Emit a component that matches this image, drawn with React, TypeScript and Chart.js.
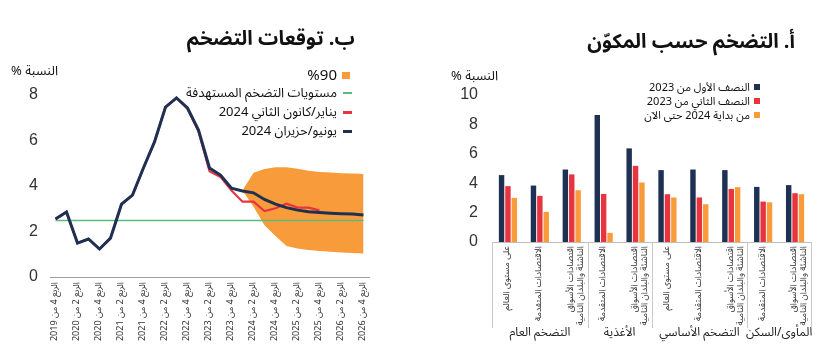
import React, { useEffect, useRef } from 'react';
import { Chart, registerables } from 'chart.js';

Chart.register(...registerables);

// ---------- Panel B: inflation expectations ----------
const quarterLabels = [
  'الربع 4 من 2019', 'الربع 1 من 2020', 'الربع 2 من 2020', 'الربع 3 من 2020', 'الربع 4 من 2020',
  'الربع 1 من 2021', 'الربع 2 من 2021', 'الربع 3 من 2021', 'الربع 4 من 2021',
  'الربع 1 من 2022', 'الربع 2 من 2022', 'الربع 3 من 2022', 'الربع 4 من 2022',
  'الربع 1 من 2023', 'الربع 2 من 2023', 'الربع 3 من 2023', 'الربع 4 من 2023',
  'الربع 1 من 2024', 'الربع 2 من 2024', 'الربع 3 من 2024', 'الربع 4 من 2024',
  'الربع 1 من 2025', 'الربع 2 من 2025', 'الربع 3 من 2025', 'الربع 4 من 2025',
  'الربع 1 من 2026', 'الربع 2 من 2026', 'الربع 3 من 2026', 'الربع 4 من 2026',
];

const june2024Forecast = [
  2.55, 2.86, 1.49, 1.67, 1.23, 1.71, 3.2, 3.6, 4.8, 5.94, 7.47, 7.87, 7.43, 6.46, 4.79, 4.48,
  3.9, 3.78, 3.7, 3.41, 3.2, 3.05, 2.94, 2.87, 2.83, 2.8, 2.78, 2.77, 2.73,
];

const january2024Forecast = [
  2.55, 2.86, 1.49, 1.67, 1.23, 1.71, 3.2, 3.6, 4.8, 5.94, 7.47, 7.87, 7.4, 6.4, 4.65, 4.4,
  3.8, 3.31, 3.31, 2.9, 3.02, 3.22, 3.05, 3.05, 2.93, null, null, null, null,
];

const targetLevels = [
  2.48, 2.48, 2.48, 2.48, 2.48, 2.48, 2.48, 2.48, 2.48, 2.48, 2.48, 2.48, 2.48, 2.48, 2.48,
  2.48, 2.48, 2.48, 2.48, 2.48, 2.48, 2.48, 2.48, 2.48, 2.48, 2.48, 2.48, 2.48, 2.48,
];

const band90Upper = [
  null, null, null, null, null, null, null, null, null, null, null, null, null, null, null, null, null,
  3.8, 4.58, 4.75, 4.82, 4.82, 4.76, 4.67, 4.62, 4.59, 4.56, 4.55, 4.53,
];

const band90Lower = [
  null, null, null, null, null, null, null, null, null, null, null, null, null, null, null, null, null,
  3.8, 3.09, 2.28, 1.8, 1.36, 1.25, 1.19, 1.14, 1.11, 1.08, 1.06, 1.03,
];

// ---------- Panel A: inflation by component ----------
const componentCategories: (string | string[])[] = [
  'على مستوى العالم',
  'الاقتصادات المتقدمة',
  ['اقتصادات الأسواق', 'الناشئة والبلدان النامية'],
  'الاقتصادات المتقدمة',
  ['اقتصادات الأسواق', 'الناشئة والبلدان النامية'],
  'على مستوى العالم',
  'الاقتصادات المتقدمة',
  ['اقتصادات الأسواق', 'الناشئة والبلدان النامية'],
  'الاقتصادات المتقدمة',
  ['اقتصادات الأسواق', 'الناشئة والبلدان النامية'],
];
const componentGroups = ['التضخم العام', 'الأغذية', 'التضخم الأساسي', 'المأوى/السكن'];
const componentGroupSizes = [3, 2, 3, 2];

const firstHalf2023 = [4.55, 3.84, 4.93, 8.64, 6.37, 4.89, 4.93, 4.89, 3.75, 3.87];
const secondHalf2023 = [3.8, 3.14, 4.6, 3.27, 5.18, 3.25, 3.03, 3.61, 2.75, 3.32];
const since2024 = [3.0, 2.05, 3.52, 0.62, 4.05, 3.03, 2.57, 3.73, 2.7, 3.25];

// ---------- styles ----------
const NAVY = '#1e3152';
const RED = '#e8343f';
const ORANGE = '#f89c3b';
const GREEN = '#5cba80';
const AR_FONT = '"Noto Sans Arabic", "Noto Sans", "DejaVu Sans", sans-serif';
const NUM_FONT = '"Liberation Sans", Arial, sans-serif';

function ForecastChart() {
  const ref = useRef<HTMLCanvasElement>(null);
  useEffect(() => {
    const chart = new Chart(ref.current as HTMLCanvasElement, {
      type: 'line',
      data: {
        labels: quarterLabels,
        datasets: [
          { label: 'يونيو/حزيران 2024', data: june2024Forecast, borderColor: NAVY, borderWidth: 3, pointRadius: 0, tension: 0, order: 0 },
          { label: 'يناير/كانون الثاني 2024', data: january2024Forecast, borderColor: RED, borderWidth: 2.2, pointRadius: 0, tension: 0, order: 1 },
          { label: 'مستويات التضخم المستهدفة', data: targetLevels, borderColor: GREEN, borderWidth: 1.5, pointRadius: 0, tension: 0, order: 2 },
          { label: '%90', data: band90Upper, borderColor: 'rgba(0,0,0,0)', borderWidth: 0, backgroundColor: ORANGE, fill: '+1', pointRadius: 0, tension: 0, order: 3 },
          { label: '%90-', data: band90Lower, borderColor: 'rgba(0,0,0,0)', borderWidth: 0, backgroundColor: ORANGE, fill: false, pointRadius: 0, tension: 0, order: 4 },
        ] as any,
      },
      options: {
        responsive: false,
        animation: false,
        layout: { padding: { top: 95, right: 51, left: 0, bottom: 0 } },
        plugins: { legend: { display: false }, tooltip: { enabled: false } },
        scales: {
          x: {
            offset: true,
            grid: { display: false, drawTicks: false },
            border: { display: true, color: '#9c9c9c', width: 1 },
            ticks: {
              autoSkip: false,
              minRotation: 90,
              maxRotation: 90,
              padding: 5,
              color: '#333',
              font: { size: 9, family: AR_FONT },
              callback: (_v: any, i: number) => (i % 2 === 0 ? quarterLabels[i] : ''),
            },
            afterFit: (s: any) => { s.height = 73; },
          },
          y: {
            min: 0,
            max: 8,
            grid: { display: false, drawTicks: false },
            border: { display: false },
            ticks: { stepSize: 2, padding: 12, color: '#333', font: { size: 16, family: NUM_FONT } },
            afterFit: (s: any) => { s.width = 50; },
          },
        },
      } as any,
    });
    return () => chart.destroy();
  }, []);
  return <canvas ref={ref} width={420} height={350} style={{ position: 'absolute', left: 0, top: 0 }} />;
}

const groupPlugin = {
  id: 'componentGroups',
  afterDraw(chart: any) {
    const x = chart.scales.x;
    const ctx = chart.ctx as CanvasRenderingContext2D;
    const step = x.getPixelForValue(1) - x.getPixelForValue(0);
    const edge = (k: number) => x.getPixelForValue(k) - step / 2;
    ctx.save();
    ctx.strokeStyle = '#c9c9c9';
    ctx.lineWidth = 1;
    ctx.fillStyle = '#222';
    ctx.font = `12px ${AR_FONT}`;
    ctx.textAlign = 'center';
    ctx.textBaseline = 'middle';
    let start = 0;
    const bounds = [0];
    componentGroupSizes.forEach((n, gi) => {
      const end = start + n;
      bounds.push(end);
      ctx.fillText(componentGroups[gi], (edge(start) + edge(end)) / 2, 334);
      start = end;
    });
    bounds.forEach((b) => {
      const px = Math.round(edge(b)) + 0.5;
      ctx.beginPath();
      ctx.moveTo(px, x.top);
      ctx.lineTo(px, 328);
      ctx.stroke();
    });
    ctx.restore();
  },
};

function ComponentChart() {
  const ref = useRef<HTMLCanvasElement>(null);
  useEffect(() => {
    const common = { categoryPercentage: 0.6, barPercentage: 0.85 };
    const chart = new Chart(ref.current as HTMLCanvasElement, {
      type: 'bar',
      data: {
        labels: componentCategories,
        datasets: [
          { label: 'النصف الأول من 2023', data: firstHalf2023, backgroundColor: NAVY, ...common },
          { label: 'النصف الثاني من 2023', data: secondHalf2023, backgroundColor: RED, ...common },
          { label: 'من بداية 2024 حتى الآن', data: since2024, backgroundColor: ORANGE, ...common },
        ],
      },
      options: {
        responsive: false,
        animation: false,
        layout: { padding: { top: 95, right: 29, left: 0, bottom: 0 } },
        plugins: { legend: { display: false }, tooltip: { enabled: false } },
        scales: {
          x: {
            grid: { display: false, drawTicks: false },
            border: { display: true, color: '#bdbdbd', width: 1 },
            ticks: {
              autoSkip: false,
              minRotation: 90,
              maxRotation: 90,
              padding: 4,
              color: '#333',
              font: { size: 9, family: AR_FONT, lineHeight: 1.1 },
            },
            afterFit: (s: any) => { s.height = 108; },
          },
          y: {
            min: 0,
            max: 10,
            grid: { display: false, drawTicks: false },
            border: { display: false },
            ticks: { stepSize: 2, padding: 14, color: '#333', font: { size: 16, family: NUM_FONT } },
            afterFit: (s: any) => { s.width = 72; },
          },
        },
      } as any,
      plugins: [groupPlugin],
    });
    return () => chart.destroy();
  }, []);
  return <canvas ref={ref} width={420} height={350} style={{ position: 'absolute', left: 420, top: 0 }} />;
}

const textBase: React.CSSProperties = {
  position: 'absolute',
  direction: 'rtl',
  whiteSpace: 'nowrap',
  fontFamily: AR_FONT,
  color: '#111',
};

function Label(props: { text: string; right: number; cy: number; size: number; bold?: boolean; lh?: number }) {
  const lh = props.lh ?? Math.round(props.size * 1.4);
  return (
    <div
      style={{
        ...textBase,
        right: 840 - props.right,
        top: props.cy - lh / 2,
        height: lh,
        lineHeight: `${lh}px`,
        fontSize: props.size,
        fontWeight: props.bold ? 700 : 400,
      }}
    >
      {props.text}
    </div>
  );
}

function Swatch(props: { x: number; cy: number; w: number; h: number; color: string }) {
  return (
    <div
      style={{
        position: 'absolute',
        left: props.x,
        top: props.cy - props.h / 2,
        width: props.w,
        height: props.h,
        background: props.color,
      }}
    />
  );
}

const forecastLegend = [
  { text: '%90', color: ORANGE, kind: 'box', cy: 75, size: 15 },
  { text: 'مستويات التضخم المستهدفة', color: GREEN, kind: 'thin', cy: 93, size: 13 },
  { text: 'يناير/كانون الثاني 2024', color: RED, kind: 'line', cy: 112, size: 13 },
  { text: 'يونيو/حزيران 2024', color: NAVY, kind: 'line', cy: 131, size: 13 },
];

const componentLegend = [
  { text: 'النصف الأول من 2023', color: NAVY, cy: 87 },
  { text: 'النصف الثاني من 2023', color: RED, cy: 101 },
  { text: 'من بداية 2024 حتى الآن', color: ORANGE, cy: 115 },
];

export default function App() {
  return (
    <div style={{ position: 'fixed', left: 0, top: 0, width: 840, height: 350, background: '#fff', overflow: 'hidden' }}>
      <ForecastChart />
      <ComponentChart />

      <Label text="ب. توقعات التضخم" right={355} cy={39} size={20} bold />
      <Label text="أ. التضخم حسب المكوّن" right={795} cy={42} size={20} bold />

      <Label text="النسبة %" right={58} cy={71} size={13} />
      <Label text="النسبة %" right={498} cy={76} size={13} />

      {forecastLegend.map((it) => (
        <React.Fragment key={it.text}>
          <Label text={it.text} right={337} cy={it.cy} size={it.size} />
          {it.kind === 'box' ? (
            <Swatch x={342} cy={it.cy} w={8} h={7} color={it.color} />
          ) : (
            <Swatch x={343} cy={it.cy} w={9} h={it.kind === 'thin' ? 1.5 : 3} color={it.color} />
          )}
        </React.Fragment>
      ))}

      {componentLegend.map((it) => (
        <React.Fragment key={it.text}>
          <Label text={it.text} right={750} cy={it.cy} size={11} />
          <Swatch x={754} cy={it.cy} w={6} h={6} color={it.color} />
        </React.Fragment>
      ))}
    </div>
  );
}
